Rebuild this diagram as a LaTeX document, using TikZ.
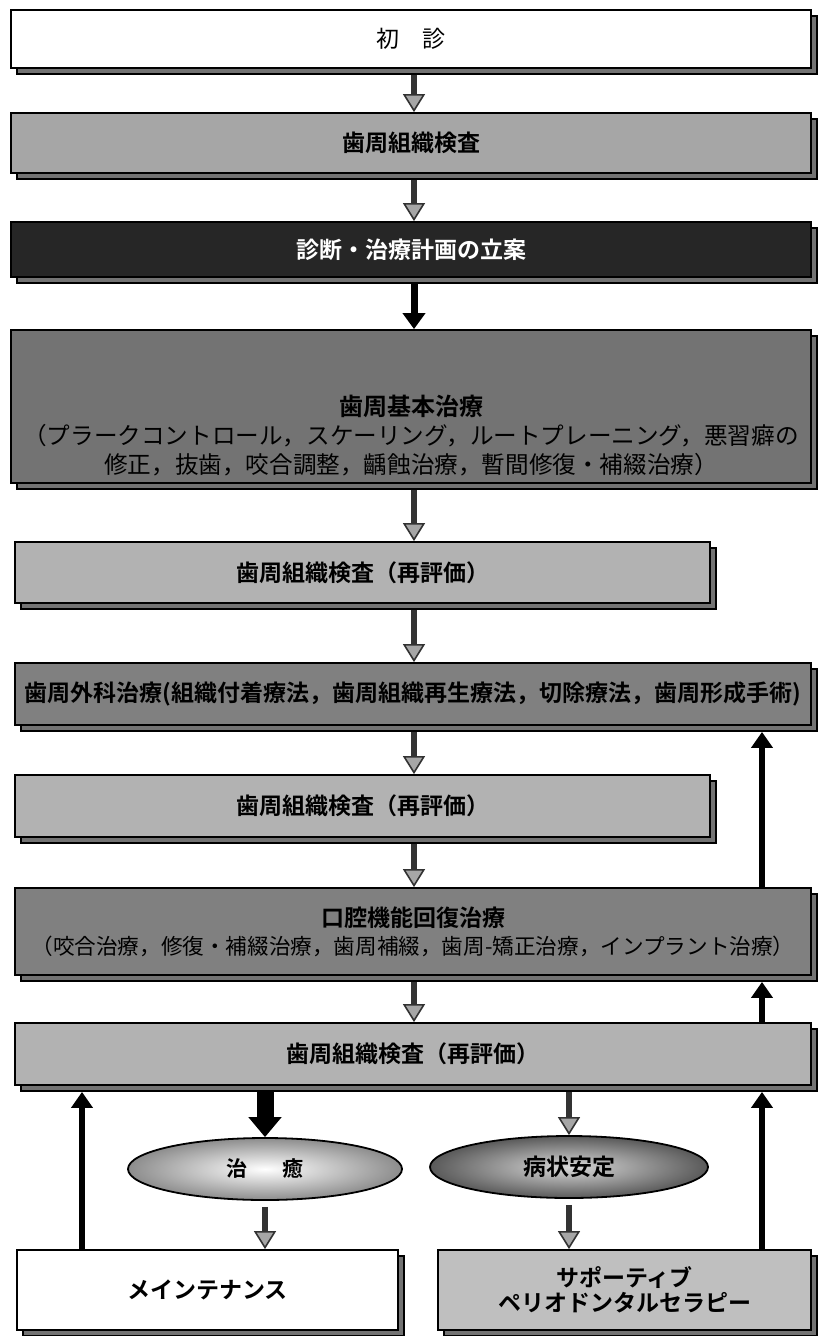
\documentclass[tikz,border=0pt]{standalone}
\usepackage{fontspec}
\newfontfamily\jp{Noto Sans CJK JP}[BoldFont={Noto Sans CJK JP Bold}]
\usetikzlibrary{arrows.meta,shapes.geometric,shadows}

\tikzset{every picture/.style={line width=0.75pt}}
\tikzset{
  slab/.style={draw=black, line width=0.9pt, inner sep=0pt,
    drop shadow={shadow xshift=3pt, shadow yshift=-3pt, opacity=1, fill=black!55, draw=black, line width=0.9pt}},
  title/.style={font=\jp\bfseries\fontsize{11.5}{14}\selectfont},
  oval/.style={ellipse, draw=black, line width=0.9pt, inner sep=0pt},
  flow/.style={draw=black!80, line width=3pt, shorten <=3pt,
    -{Triangle[width=11pt, length=9pt, fill=black!35, line width=0.8pt]}},
  flowsolid/.style={draw=black, line width=3.5pt, shorten <=3pt,
    -{Triangle[width=11pt, length=8pt]}},
  flowbig/.style={draw=black, line width=8.5pt, shorten <=3pt,
    -{Triangle[width=16pt, length=10pt]}},
  back/.style={draw=black, line width=3pt, shorten >=3pt,
    -{Triangle[width=10.5pt, length=8pt]}}
}

\begin{document}
\begin{tikzpicture}[x=0.5pt,y=0.5pt,yscale=-1]
	\useasboundingbox (0,0) rectangle (818,1336);
	\coordinate (spine) at (414,0);
	\coordinate (rcol) at (762,0);
	\coordinate (lcol) at (82,0);
	
	%Shape: Rectangle [first visit]
	\node [slab, fill=white, minimum width=400pt, minimum height=29pt, font=\jp\fontsize{11.5}{14}\selectfont] (shoshin) at (411,39) {初　診};
	%Shape: Rectangle [examination]
	\node [slab, title, fill=black!35, minimum width=400pt, minimum height=30pt] (kensa) at (411,143) {歯周組織検査};
	%Shape: Rectangle [diagnosis]
	\node [slab, title, fill=black!85, text=white, minimum width=400pt, minimum height=27.5pt] (keikaku) at (411,249.5) {診断・治療計画の立案};
	%Shape: Rectangle [initial therapy]
	\node [slab, fill=black!55, minimum width=400pt, minimum height=76.5pt] (kihon) at (411,406.5) {};
	% Text Node
	\node [align=center, font=\jp\fontsize{11.8}{14.5}\selectfont] (kihontxt) at (411,436)
		{{\bfseries\fontsize{12}{14.5}\selectfont 歯周基本治療}\\（プラークコントロール，スケーリング，ルートプレーニング，悪習癖の\\修正，抜歯，咬合調整，齲蝕治療，暫間修復・補綴治療）};
	%Shape: Rectangle [re-evaluation 1]
	\node [slab, title, fill=black!30, minimum width=347.5pt, minimum height=30.5pt] (saihyoka1) at (362.5,572.5) {歯周組織検査（再評価）};
	%Shape: Rectangle [surgery]
	\node [slab, title, fill=black!50, minimum width=398pt, minimum height=31pt] (geka) at (413,694) {歯周外科治療(組織付着療法，歯周組織再生療法，切除療法，歯周形成手術)};
	%Shape: Rectangle [re-evaluation 2]
	\node [slab, title, fill=black!30, minimum width=347.5pt, minimum height=31pt] (saihyoka2) at (362.5,806) {歯周組織検査（再評価）};
	%Shape: Rectangle [oral function]
	\node [slab, fill=black!50, minimum width=398pt, minimum height=43.5pt, align=center, font=\jp\fontsize{10.8}{14}\selectfont] (kaifuku) at (413,931.5)
		{{\bfseries\fontsize{11.5}{14}\selectfont 口腔機能回復治療}\\（咬合治療，修復・補綴治療，歯周補綴，歯周-矯正治療，インプラント治療）};
	%Shape: Rectangle [re-evaluation 3]
	\node [slab, title, fill=black!30, minimum width=398pt, minimum height=31pt] (saihyoka3) at (413,1054) {歯周組織検査（再評価）};
	%Shape: Ellipse [healed]
	\node [oval, inner color=white, outer color=black!45, minimum width=137pt, minimum height=31pt, font=\jp\bfseries\fontsize{10.5}{12}\selectfont] (chiyu) at (265,1169) {治\hspace{1.7em}癒};
	%Shape: Ellipse [stable]
	\node [oval, title, inner color=black!15, outer color=black!65, minimum width=139pt, minimum height=31pt] (antei) at (569,1167) {病状安定};
	%Shape: Rectangle [maintenance]
	\node [slab, title, fill=white, minimum width=190.5pt, minimum height=40pt] (maint) at (207.5,1290) {メインテナンス};
	%Shape: Rectangle [SPT]
	\node [slab, title, fill=black!25, minimum width=186.5pt, minimum height=40pt, align=center, font=\jp\bfseries\fontsize{11.5}{12.5}\selectfont] (spt) at (624.5,1290) {サポーティブ\\ペリオドンタルセラピー};
	
	%Straight Lines [main flow]
	\draw [flow] (shoshin.south -| spine) -- (kensa.north -| spine);
	\draw [flow] (kensa.south -| spine) -- (keikaku.north -| spine);
	\draw [flowsolid] (keikaku.south -| spine) -- (kihon.north -| spine);
	\draw [flow] (kihon.south -| spine) -- (saihyoka1.north -| spine);
	\draw [flow] (saihyoka1.south -| spine) -- (geka.north -| spine);
	\draw [flow] (geka.south -| spine) -- (saihyoka2.north -| spine);
	\draw [flow] (saihyoka2.south -| spine) -- (kaifuku.north -| spine);
	\draw [flow] (kaifuku.south -| spine) -- (saihyoka3.north -| spine);
	%Straight Lines [outcome]
	\draw [flowbig] (saihyoka3.south -| chiyu.north) -- (chiyu.north);
	\draw [flow] (saihyoka3.south -| antei.north) -- (antei.north);
	\draw [flow] (chiyu.south) -- (chiyu.south |- maint.north);
	\draw [flow] (antei.south) -- (antei.south |- spt.north);
	%Straight Lines [return]
	\draw [back] (maint.north -| lcol) -- (saihyoka3.south -| lcol);
	\draw [back] (spt.north -| rcol) -- (saihyoka3.south -| rcol);
	\draw [back] (saihyoka3.north -| rcol) -- (kaifuku.south -| rcol);
	\draw [back] (kaifuku.north -| rcol) -- (geka.south -| rcol);
	
\end{tikzpicture}
\end{document}
